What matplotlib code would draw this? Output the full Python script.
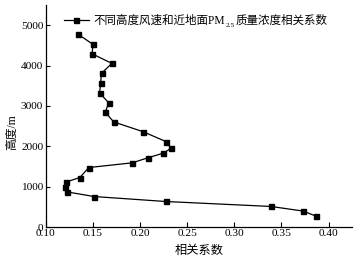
import matplotlib
matplotlib.use("Agg")
import matplotlib.pyplot as plt

plt.rcParams['font.family'] = ['Liberation Serif', 'Noto Sans CJK SC']

corr = [0.3865, 0.373, 0.339, 0.227, 0.151, 0.122, 0.1205, 0.121, 0.136, 0.1455,
        0.1915, 0.208, 0.2245, 0.233, 0.2275, 0.203, 0.172, 0.163, 0.1666, 0.157,
        0.158, 0.159, 0.170, 0.149, 0.150, 0.1345]
height = [277, 400, 514, 637, 760, 876, 996, 1116, 1230, 1477,
          1593, 1716, 1832, 1955, 2119, 2365, 2605, 2844, 3081, 3321,
          3568, 3807, 4054, 4291, 4523, 4770]
xticks = [0.10, 0.15, 0.20, 0.25, 0.30, 0.35, 0.40]
yticks = [0, 1000, 2000, 3000, 4000, 5000]
legend_head = '不同高度风速和近地面PM'
legend_sub = '2.5'
legend_tail = '质量浓度相关系数'

fig = plt.figure(figsize=(3.56, 2.6), dpi=100)
ax = fig.add_axes([0.129, 0.126, 0.86, 0.855])
ax.plot(corr, height, '-s', color='black', lw=0.9, markersize=3.6,
        label=legend_head)
ax.set_xlim(0.10, 0.425)
ax.set_ylim(0, 5500)
ax.set_xticks(xticks)
ax.set_xticklabels([f'{t:.2f}' for t in xticks])
ax.set_yticks(yticks)
ax.spines['top'].set_visible(False)
ax.spines['right'].set_visible(False)
for s in ['left', 'bottom']:
    ax.spines[s].set_linewidth(0.9)
ax.tick_params(axis='x', direction='in', length=3.5, width=0.8, labelsize=8.2, pad=1)
ax.tick_params(axis='y', direction='in', length=3, width=0.8, labelsize=8.2, pad=2)
ax.set_xlabel('相关系数', fontsize=8.8, labelpad=5)
ax.set_ylabel('高度/m', fontsize=8.5)
ax.yaxis.set_label_coords(-0.09, 0.43)
leg = ax.legend(loc='upper left', bbox_to_anchor=(0.035, 0.985), frameon=False,
                fontsize=8.3, handlelength=2.2, handletextpad=0.4, borderaxespad=0.2)

fig.canvas.draw()
r = fig.canvas.get_renderer()
t = leg.get_texts()[0]
bb = t.get_window_extent(r)
inv = fig.transFigure.inverted()
x1, y0 = inv.transform((bb.x1, bb.y0))
_, y1 = inv.transform((bb.x1, bb.y1))
yc = (y0 + y1) / 2
sub = fig.text(x1 + 0.001, yc - 0.018, legend_sub, fontsize=5.2, va='center', ha='left')
fig.canvas.draw()
sbb = sub.get_window_extent(r)
sx1, _ = inv.transform((sbb.x1, sbb.y0))
fig.text(sx1 + 0.002, yc, legend_tail, fontsize=8.3, va='center', ha='left')
fig.savefig('out.png', dpi=100)
